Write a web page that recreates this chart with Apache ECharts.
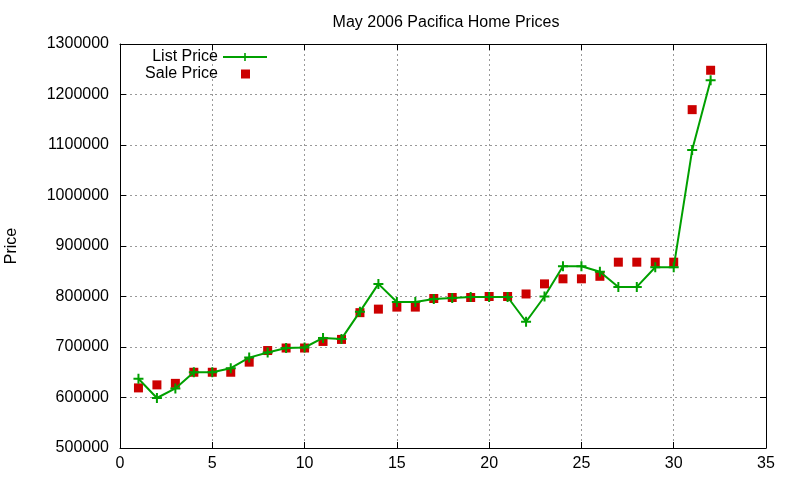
<!DOCTYPE html>
<html>
<head>
<meta charset="utf-8">
<script src="https://cdn.jsdelivr.net/npm/echarts@6/dist/echarts.min.js"></script>
<style>
  html, body { margin: 0; padding: 0; background: #fff; }
  #chart { width: 800px; height: 480px; }
</style>
</head>
<body>
<div id="chart"></div>
<script>
// 데이터
const houses = [1, 2, 3, 4, 5, 6, 7, 8, 9, 10, 11, 12, 13, 14, 15, 16,
  17, 18, 19, 20, 21, 22, 23, 24, 25, 26, 27, 28, 29, 30, 31, 32];
const listPrice = [637000, 599000, 618000, 650000, 650000, 658000, 679000, 689000,
  698000, 699000, 718000, 716000, 770000, 825000, 789000, 789000,
  795000, 797000, 799000, 799000, 799000, 750000, 800000, 860000,
  860000, 849000, 819000, 819000, 858000, 858000, 1090000, 1228000];
const salePrice = [619000, 625000, 628000, 650000, 650000, 650000, 670000, 693000,
  698000, 698000, 711000, 715000, 768000, 775000, 779000, 779000,
  796000, 798000, 798000, 800000, 800000, 805000, 825000, 835000,
  835000, 840000, 868000, 868000, 868000, 868000, 1170000, 1248000];
const xTicks = { min: 0, max: 35, interval: 5 };
const yTicks = { min: 500000, max: 1300000, interval: 100000 };

document.addEventListener('DOMContentLoaded', function() {
  const myChart = echarts.init(document.getElementById('chart'));
  const font = 'Liberation Sans, Arial, sans-serif';
  const plus = 'path://M4,0h2v4h4v2h-4v4h-2v-4h-4v-2h4z';
  const green = '#00a000';
  const red = '#cc0000';

  const axisBase = {
    type: 'value',
    axisLine: { show: true, onZero: false, lineStyle: { color: '#000', width: 1 } },
    axisTick: { show: true, inside: true, length: 6, lineStyle: { color: '#000' } }
  };
  const legendText = { fontSize: 16, color: '#000', fontFamily: font };

  const option = {
    animation: false,
    backgroundColor: '#fff',
    textStyle: { fontFamily: font },
    title: {
      text: 'May 2006 Pacifica Home Prices',
      left: 441,
      textAlign: 'center',
      top: 10,
      textStyle: { fontSize: 16, fontWeight: 'normal', color: '#000', fontFamily: font }
    },
    legend: [
      {
        right: 532,
        top: 49,
        padding: 0,
        align: 'right',
        itemWidth: 44,
        itemHeight: 10,
        textStyle: legendText,
        data: ['List Price']
      },
      {
        right: 550,
        top: 66,
        padding: 0,
        align: 'right',
        itemWidth: 9,
        itemHeight: 9,
        textStyle: Object.assign({}, legendText, { padding: [0, 18, 0, 0] }),
        data: ['Sale Price']
      }
    ],
    grid: { left: 120, right: 34, top: 44, bottom: 32, containLabel: false, outerBoundsMode: 'none' },
    xAxis: [
      Object.assign({}, axisBase, {
        min: xTicks.min, max: xTicks.max, interval: xTicks.interval,
        position: 'bottom',
        axisLabel: { color: '#000', fontSize: 16, margin: 8, fontFamily: font },
        splitLine: { show: true, lineStyle: { color: '#999', type: [2, 3], width: 1 } }
      }),
      Object.assign({}, axisBase, {
        min: xTicks.min, max: xTicks.max, interval: xTicks.interval,
        position: 'top',
        axisLabel: { show: false },
        splitLine: { show: false }
      })
    ],
    yAxis: [
      Object.assign({}, axisBase, {
        min: yTicks.min, max: yTicks.max, interval: yTicks.interval,
        position: 'left',
        name: 'Price',
        nameLocation: 'middle',
        nameGap: 100,
        nameTextStyle: { color: '#000', fontSize: 16, fontFamily: font },
        axisLabel: { color: '#000', fontSize: 16, margin: 11, fontFamily: font,
          formatter: function(v) { return String(v); } },
        splitLine: { show: true, lineStyle: { color: '#999', type: [2, 3], width: 1 } }
      }),
      Object.assign({}, axisBase, {
        min: yTicks.min, max: yTicks.max, interval: yTicks.interval,
        position: 'right',
        axisLabel: { show: false },
        splitLine: { show: false }
      })
    ],
    series: [
      {
        name: 'List Price',
        type: 'line',
        data: houses.map((h, i) => [h, listPrice[i]]),
        symbol: plus,
        symbolSize: 10,
        showAllSymbol: true,
        itemStyle: { color: green },
        lineStyle: { color: green, width: 2 },
        z: 3
      },
      {
        name: 'Sale Price',
        type: 'scatter',
        data: houses.map((h, i) => [h, salePrice[i]]),
        symbol: 'rect',
        symbolSize: 9,
        itemStyle: { color: red, opacity: 1 },
        z: 2
      }
    ]
  };
  myChart.setOption(option);
});
</script>
</body>
</html>
